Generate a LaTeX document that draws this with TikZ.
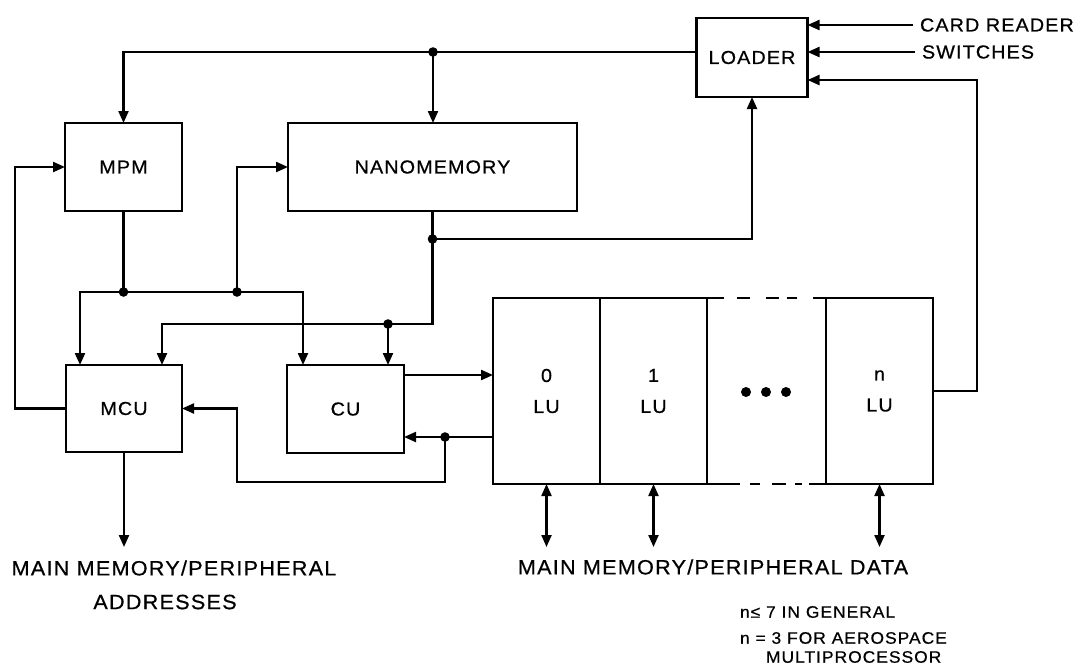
\documentclass[tikz,border=0pt]{standalone}
\usepackage{fontspec}
\setmainfont{Liberation Sans}
\newfontfamily\labfont[FakeStretch=1.05,LetterSpace=6,FakeBold=0.6]{Liberation Sans}
\usetikzlibrary{arrows.meta,calc}
\begin{document}
\begin{tikzpicture}[x=0.5pt,y=-0.5pt,
  wire/.style={line width=1.1pt},
  arr/.style={wire,-{Triangle[length=6pt,width=5pt]}},
  biarr/.style={wire,{Triangle[length=6pt,width=5pt]}-{Triangle[length=6pt,width=5pt]}},
  box/.style={draw,line width=1.3pt,inner sep=0pt,outer sep=0pt,align=center,
    font=\labfont\fontsize{9.4}{15.5}\selectfont},
  lbl/.style={inner sep=0pt,outer sep=0pt,font=\labfont\fontsize{9.4}{11}\selectfont},
  biglbl/.style={inner sep=0pt,outer sep=0pt,font=\labfont\fontsize{10.3}{12}\selectfont},
  note/.style={inner sep=0pt,outer sep=0pt,font=\labfont\fontsize{8.3}{9}\selectfont},
  jdot/.style={circle,fill,inner sep=0pt,minimum size=4.8pt},
  ludot/.style={circle,fill,inner sep=0pt,minimum size=5pt}]
\useasboundingbox[fill=white] (0,0) rectangle (1085,671);

% boxes
\node[box,minimum width=55.5pt,minimum height=39.5pt] (loader) at (752,57.5) {LOADER};
\node[box,minimum width=58.5pt,minimum height=44pt] (mpm) at (123.5,167) {MPM};
\node[box,minimum width=144.5pt,minimum height=44pt] (nano) at (432.5,167) {NANOMEMORY};
\node[box,minimum width=58pt,minimum height=43.5pt] (mcu) at (124,408.5) {MCU};
\node[box,minimum width=58.5pt,minimum height=44pt] (cu) at (345.5,409) {CU};
\node[box,minimum width=53.5pt,minimum height=93pt] (lu0) at (546.5,391) {0\\LU};
\node[box,minimum width=53.5pt,minimum height=93pt] (lu1) at (653.5,391) {1\\LU};
\node[box,minimum width=53.5pt,minimum height=93pt] (lun) at (879.5,391) {n\\LU};

% dotted LU slot
\foreach \p in {746,766,786} \node[ludot] (d\p) at (\p,392) {};
\draw[line width=1.3pt] (lu1.north east) -- ++(17,0);
\draw[line width=1.3pt] (lun.north west) -- ++(-13,0);
\foreach \a/\b in {30/43,59/72,80/90}
  \draw[line width=1.3pt] ($(lu1.north east)+(\a,0)$) -- ($(lu1.north east)+(\b,0)$);
\draw[line width=1.3pt] (lu1.south east) -- ++(33,0);
\draw[line width=1.3pt] (lun.south west) -- ++(-17,0);
\foreach \a/\b in {43/53,65/79,88/95}
  \draw[line width=1.3pt] ($(lu1.south east)+(\a,0)$) -- ($(lu1.south east)+(\b,0)$);

% text labels
\node[lbl,anchor=west,inner xsep=3.5pt] (cr) at (913,25) {CARD READER};
\node[lbl,anchor=west,inner xsep=3.5pt] (sw) at (915,52) {SWITCHES};
\node[biglbl] (addr1) at (174,568) {MAIN MEMORY/PERIPHERAL};
\node[biglbl] (addr2) at (165,602) {ADDRESSES};
\node[biglbl] (data) at (713,567) {MAIN MEMORY/PERIPHERAL DATA};
\node[note,anchor=west] (n1) at (740,612) {n≤ 7 IN GENERAL};
\node[note,anchor=west] (n2) at (740,638) {n = 3 FOR AEROSPACE};
\node[note,anchor=west] (n3) at (766,657) {MULTIPROCESSOR};

% helper coordinates
\coordinate (j1) at (433,52);
\coordinate (ybus1) at (0,292);
\coordinate (b1) at (mpm.south |- ybus1);
\coordinate (b2) at (237,292);
\coordinate (yj2) at (0,239);
\coordinate (j2) at (nano.south |- yj2);
\coordinate (j3) at (388,324);
\coordinate (j4) at (445,437);
\coordinate (lx) at (15,0);
\coordinate (fb) at (237,482);
\coordinate (rx) at (977,80);
\coordinate (yA) at (0,375);
\coordinate (ab) at (0,547);

% connectors
\draw[arr] (loader.west |- j1) -| (mpm.north);
\draw[arr] (j1) -- (j1 |- nano.north);
\draw[arr] (mcu.west) -| (lx |- mpm.west) -- (mpm.west);
\draw[wire] (mpm.south) -- (b1);
\draw[arr] (b2) -- (b1) -| ($(mcu.north west)+(14,0)$);
\draw[arr] (b2) -| ($(cu.north west)+(16,0)$);
\draw[arr] (b2) |- (nano.west);
\draw[arr] (nano.south) -- (nano.south |- j3) -| ($(mcu.north east)+(-20,0)$);
\draw[arr] (j3) -- (j3 |- cu.north);
\draw[arr] (j2) -| (loader.south);
\draw[arr] (cu.east |- yA) -- (lu0.west |- yA);
\draw[arr] (lu0.west |- j4) -- (cu.east |- j4);
\draw[arr] (j4) |- (fb) |- (mcu.east);
\draw[arr] (lun.east) -| (rx) -- (loader.east |- rx);
\draw[arr] (cr.west) -- (loader.east |- cr.west);
\draw[arr] (sw.west) -- (loader.east |- sw.west);
\draw[arr] (mcu.south) -- (mcu.south |- ab);
\draw[biarr] (lu0.south) -- (lu0.south |- ab);
\draw[biarr] (lu1.south) -- (lu1.south |- ab);
\draw[biarr] (lun.south) -- (lun.south |- ab);

% junction dots
\foreach \j in {j1,b1,b2,j2,j3,j4} \node[jdot] at (\j) {};
\end{tikzpicture}
\end{document}
